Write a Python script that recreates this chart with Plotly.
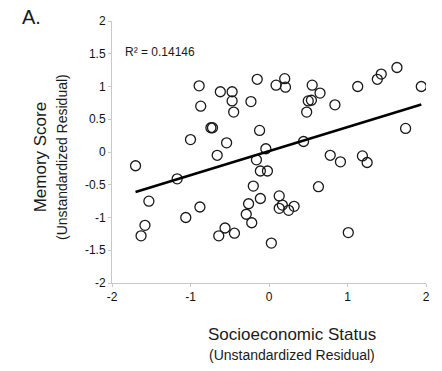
import numpy as np
import plotly.graph_objects as go

# Socioeconomic status residuals (x) and memory score residuals (y)
ses_resid = [
    -0.89, -0.62, -0.47, -0.47, -0.87, -0.45, -0.23, -0.15, -0.74, -0.72,
    -0.12, -1.00, -0.54, -0.66, -0.04, 0.09, 0.20, 0.21, 0.55, 0.65,
    0.50, 0.54, 0.48, 0.84, 1.13, 1.38, 1.43, 1.63, 1.94, 1.74,
    0.44, 0.78, 0.91, 1.19, 1.25, -1.70, -1.17, -1.53, -0.88, -1.06,
    -1.58, -1.63, -0.56, -0.64, -0.44, -0.16, -0.11, -0.02, -0.20, -0.11,
    -0.26, -0.29, -0.22, 0.03, 0.63, 0.13, 0.17, 0.13, 0.25, 0.32, 1.01,
]
memory_resid = [
    1.01, 0.92, 0.92, 0.78, 0.70, 0.61, 0.77, 1.11, 0.37, 0.37,
    0.33, 0.19, 0.14, -0.05, 0.05, 1.02, 1.12, 0.99, 1.02, 0.90,
    0.78, 0.79, 0.61, 0.72, 1.00, 1.11, 1.19, 1.29, 1.00, 0.36,
    0.16, -0.05, -0.15, -0.06, -0.16, -0.21, -0.41, -0.75, -0.84, -1.00,
    -1.12, -1.28, -1.16, -1.28, -1.24, -0.12, -0.29, -0.29, -0.52, -0.71,
    -0.79, -0.95, -1.08, -1.39, -0.53, -0.67, -0.81, -0.86, -0.89, -0.83, -1.23,
]
trend_slope = 0.367
trend_intercept = 0.014
r_squared_label = "R² = 0.14146"
tick_vals_x = [-2, -1, 0, 1, 2]
tick_vals_y = [-2, -1.5, -1, -0.5, 0, 0.5, 1, 1.5, 2]

FONT = "Arial, 'Liberation Sans', sans-serif"

xs = np.array(ses_resid)
x_line = np.array([xs.min(), xs.max()])
y_line = trend_intercept + trend_slope * x_line

fig = go.Figure()
fig.add_trace(go.Scatter(
    x=ses_resid, y=memory_resid, mode="markers",
    marker=dict(symbol="circle-open", size=10, color="#1a1a1a",
                line=dict(width=1.3, color="#1a1a1a")),
    showlegend=False, hoverinfo="x+y",
))
fig.add_trace(go.Scatter(
    x=x_line, y=y_line, mode="lines",
    line=dict(color="black", width=2.5), showlegend=False,
))

axis_common = dict(
    showgrid=False, zeroline=False, showline=True, linecolor="#c8c8c8",
    linewidth=1, ticks="outside", ticklen=3, tickcolor="#c8c8c8",
    tickfont=dict(family=FONT, size=12, color="#111111"),
)
fig.update_xaxes(range=[-2, 2], tickvals=tick_vals_x, ticktext=[str(v) for v in tick_vals_x], **axis_common)
fig.update_yaxes(range=[-2, 2], tickvals=tick_vals_y,
                 ticktext=[("%g" % v) for v in tick_vals_y], **axis_common)

fig.update_layout(
    width=442, height=371,
    margin=dict(l=112, r=14, t=21, b=88),
    paper_bgcolor="white", plot_bgcolor="white",
    font=dict(family=FONT, color="#1a1a1a"),
    annotations=[
        dict(text="A.", xref="paper", yref="paper", x=-0.255, y=1.015,
             xanchor="center", yanchor="middle", showarrow=False,
             font=dict(size=20, family=FONT, color="#1a1a1a")),
        dict(text=r_squared_label, xref="paper", yref="paper", x=0.035, y=0.883,
             xanchor="left", yanchor="middle", showarrow=False,
             font=dict(size=12, family=FONT, color="#1a1a1a")),
        dict(text="Memory Score", xref="paper", yref="paper", x=-0.229, y=0.48,
             xanchor="center", yanchor="middle", textangle=-90, showarrow=False,
             font=dict(size=17, family=FONT, color="#1a1a1a")),
        dict(text="(Unstandardized Residual)", xref="paper", yref="paper", x=-0.16, y=0.48,
             xanchor="center", yanchor="middle", textangle=-90, showarrow=False,
             font=dict(size=14, family=FONT, color="#1a1a1a")),
        dict(text="Socioeconomic Status", xref="paper", yref="paper", x=0.573, y=-0.195,
             xanchor="center", yanchor="middle", showarrow=False,
             font=dict(size=17, family=FONT, color="#1a1a1a")),
        dict(text="(Unstandardized Residual)", xref="paper", yref="paper", x=0.573, y=-0.275,
             xanchor="center", yanchor="middle", showarrow=False,
             font=dict(size=14, family=FONT, color="#1a1a1a")),
    ],
)

fig.write_html("out.html", config={"displayModeBar": False},
               post_script="document.body.style.margin='0';")
